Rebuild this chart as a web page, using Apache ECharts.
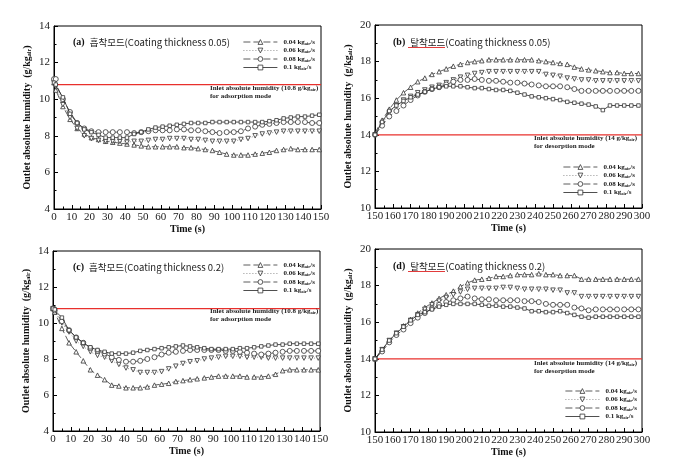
<!DOCTYPE html>
<html><head><meta charset="utf-8">
<script src="https://cdn.jsdelivr.net/npm/echarts@6/dist/echarts.min.js"></script>
<style>html,body{margin:0;padding:0;background:#fff}#c{width:686px;height:470px}</style>
</head><body><div id="c"></div>
<script>
// ---------- data ----------
const flowNames = ['0.04', '0.06', '0.08', '0.1'];
const timeA = [0,1,5,9,13,17,21,25,29,33,37,41,45,49,53,57,61,65,69,73,77,81,85,89,93,97,101,105,109,113,117,121,125,129,133,137,141,145,149];
const timeB = [150,154,158,162,166,170,174,178,182,186,190,194,198,202,206,210,214,218,222,226,230,234,238,242,246,250,254,258,262,266,270,274,278,282,286,290,294,298];

// (a) adsorption, coating 0.05
const a04 = [10.9,10.5,9.6,8.9,8.4,8.1,7.9,7.8,7.7,7.65,7.6,7.55,7.5,7.45,7.4,7.4,7.4,7.4,7.4,7.35,7.35,7.3,7.25,7.2,7.1,7.0,6.95,6.95,6.95,7.0,7.05,7.1,7.2,7.25,7.3,7.25,7.25,7.25,7.25];
const a06 = [10.9,10.7,9.7,9.0,8.4,8.0,7.85,7.75,7.7,7.7,7.7,7.65,7.7,7.7,7.75,7.8,7.8,7.85,7.85,7.85,7.8,7.8,7.75,7.7,7.7,7.7,7.7,7.8,7.85,8.0,8.1,8.15,8.2,8.25,8.25,8.25,8.25,8.25,8.25];
const a08 = [11.1,11.1,10.0,9.3,8.7,8.4,8.25,8.2,8.2,8.2,8.2,8.2,8.15,8.2,8.25,8.3,8.3,8.3,8.35,8.35,8.3,8.3,8.25,8.2,8.15,8.2,8.2,8.25,8.4,8.5,8.6,8.65,8.7,8.75,8.75,8.75,8.75,8.7,8.7];
const a10 = [10.9,10.8,10.1,9.2,8.7,8.35,8.2,8.05,7.9,7.9,7.9,7.9,8.1,8.2,8.35,8.45,8.5,8.55,8.6,8.65,8.7,8.7,8.7,8.75,8.75,8.75,8.75,8.75,8.75,8.75,8.75,8.8,8.85,8.95,9.0,9.05,9.05,9.1,9.15];

// (b) desorption, coating 0.05
const b04 = [14.1,14.8,15.4,15.9,16.3,16.6,16.9,17.1,17.3,17.45,17.6,17.75,17.85,17.95,18.0,18.05,18.1,18.1,18.1,18.1,18.1,18.1,18.1,18.05,18.0,17.95,17.9,17.85,17.7,17.6,17.55,17.5,17.45,17.4,17.4,17.35,17.35,17.35];
const b06 = [14.0,14.6,15.2,15.6,15.9,16.1,16.3,16.45,16.6,16.7,16.85,17.0,17.15,17.25,17.35,17.4,17.45,17.45,17.45,17.45,17.45,17.45,17.45,17.45,17.3,17.25,17.2,17.1,17.05,17.0,17.0,16.95,16.95,16.95,16.95,16.95,16.95,16.95];
const b08 = [14.0,14.5,15.0,15.3,15.6,15.9,16.15,16.35,16.5,16.6,16.75,16.9,17.0,17.0,17.05,17.0,16.95,16.95,16.9,16.85,16.85,16.8,16.75,16.7,16.65,16.65,16.65,16.6,16.5,16.4,16.4,16.4,16.4,16.4,16.4,16.4,16.4,16.4];
const b10 = [14.0,14.7,15.3,15.6,15.85,16.05,16.2,16.35,16.5,16.6,16.65,16.65,16.65,16.6,16.55,16.55,16.5,16.45,16.45,16.4,16.3,16.2,16.1,16.05,16.0,15.95,15.9,15.8,15.75,15.7,15.65,15.55,15.35,15.6,15.6,15.6,15.6,15.6];

// (c) adsorption, coating 0.2
const c04 = [10.8,10.6,9.7,8.9,8.4,7.9,7.4,7.1,6.85,6.55,6.5,6.4,6.4,6.4,6.45,6.55,6.6,6.65,6.75,6.8,6.85,6.9,6.95,7.0,7.05,7.05,7.05,7.05,7.0,7.0,7.0,7.05,7.15,7.35,7.4,7.4,7.4,7.4,7.4];
const c06 = [10.8,10.7,10.0,9.5,9.0,8.7,8.4,8.2,8.1,7.9,7.7,7.5,7.4,7.25,7.25,7.25,7.3,7.45,7.6,7.75,7.85,7.9,8.0,8.05,8.1,8.15,8.15,8.15,8.1,8.1,8.1,8.05,8.05,8.05,8.05,8.05,8.05,8.05,8.05];
const c08 = [10.8,10.7,10.1,9.6,9.2,8.9,8.6,8.45,8.3,8.1,7.95,7.85,7.85,7.9,8.0,8.1,8.25,8.35,8.4,8.45,8.5,8.5,8.5,8.5,8.5,8.45,8.45,8.4,8.35,8.3,8.25,8.3,8.35,8.4,8.45,8.45,8.45,8.45,8.45];
const c10 = [10.8,10.75,10.3,9.6,9.2,8.9,8.65,8.5,8.4,8.3,8.3,8.3,8.35,8.45,8.5,8.55,8.6,8.65,8.7,8.75,8.7,8.65,8.6,8.55,8.55,8.55,8.55,8.6,8.6,8.65,8.7,8.75,8.8,8.8,8.85,8.85,8.85,8.85,8.85];

// (d) desorption, coating 0.2
const d04 = [14.0,14.5,15.0,15.4,15.8,16.15,16.5,16.8,17.05,17.3,17.5,17.7,17.95,18.15,18.3,18.35,18.4,18.5,18.5,18.55,18.6,18.6,18.6,18.65,18.6,18.6,18.55,18.55,18.55,18.35,18.35,18.35,18.35,18.35,18.35,18.35,18.35,18.35];
const d06 = [14.0,14.5,15.0,15.4,15.75,16.1,16.4,16.7,16.95,17.15,17.35,17.5,17.65,17.8,17.85,17.85,17.85,17.85,17.9,17.9,17.85,17.8,17.8,17.8,17.8,17.75,17.75,17.6,17.6,17.4,17.4,17.4,17.4,17.4,17.4,17.4,17.4,17.4];
const d08 = [14.0,14.4,14.9,15.3,15.6,15.95,16.25,16.5,16.75,16.95,17.1,17.2,17.3,17.4,17.3,17.25,17.25,17.2,17.2,17.2,17.2,17.15,17.15,17.1,17.0,16.95,16.95,16.95,16.8,16.75,16.65,16.7,16.7,16.7,16.7,16.7,16.7,16.7];
const d10 = [14.0,14.5,15.0,15.4,15.75,16.1,16.4,16.55,16.7,16.85,16.95,17.0,17.0,17.0,17.0,16.95,16.9,16.9,16.85,16.85,16.8,16.75,16.6,16.6,16.55,16.55,16.6,16.5,16.4,16.3,16.25,16.3,16.3,16.3,16.3,16.3,16.3,16.3];

const inletAds = 10.8, inletDes = 14;
const panelTitles = ['흡착모드(Coating thickness 0.05)', '탈착모드(Coating thickness 0.05)', '흡착모드(Coating thickness 0.2)', '탈착모드(Coating thickness 0.2)'];
const panelLetters = ['(a)', '(b)', '(c)', '(d)'];

// ---------- layout/style ----------
const SERIF = '"Liberation Serif","Times New Roman",serif';
const KR = '"Noto Sans CJK KR","Noto Sans",sans-serif';
const grids = [
  {left: 54, top: 26, width: 267, height: 183},
  {left: 375, top: 25, width: 267, height: 183},
  {left: 53, top: 251, width: 267, height: 180},
  {left: 375, top: 249, width: 267, height: 183}
];
const panels = [
  {t: timeA, s: [a04, a06, a08, a10], xr: [0, 150], yr: [4, 14], inlet: inletAds},
  {t: timeB, s: [b04, b06, b08, b10], xr: [150, 300], yr: [10, 20], inlet: inletDes},
  {t: timeA, s: [c04, c06, c08, c10], xr: [0, 150], yr: [4, 14], inlet: inletAds},
  {t: timeB, s: [d04, d06, d08, d10], xr: [150, 300], yr: [10, 20], inlet: inletDes}
];
const symbols = ['triangle', 'triangle', 'circle', 'rect'];
const rotates = [0, 180, 0, 0];
const lineTypes = [[7, 3], [1, 2], [7, 3], 'solid'];
const lineColors = ['#333', '#777', '#333', '#222'];
const symSizes = [4.5, 4.5, 5, 3.5];

const xAxes = [], yAxes = [], series = [], legends = [], titles = [], graphics = [];
const subRich = {
  a: {fontFamily: SERIF, fontWeight: 'bold', fontSize: 7, color: '#222', lineHeight: 8},
  s: {fontFamily: SERIF, fontWeight: 'bold', fontSize: 4.5, color: '#222', padding: [3, 0, 0, 0], lineHeight: 8}
};

panels.forEach((p, i) => {
  xAxes.push({
    type: 'value', gridIndex: i, min: p.xr[0], max: p.xr[1], interval: 10,
    name: 'Time (s)', nameLocation: 'middle', nameGap: 15,
    nameTextStyle: {fontFamily: SERIF, fontWeight: 'bold', fontSize: 10, color: '#111'},
    axisLine: {onZero: false, lineStyle: {color: '#000', width: 1}},
    axisTick: {inside: true, length: 4, lineStyle: {color: '#000'}},
    minorTick: {show: true, splitNumber: 2, length: 2.5, lineStyle: {color: '#000'}},
    axisLabel: {fontFamily: SERIF, fontSize: 11, color: '#222', margin: 3, showMinLabel: true, showMaxLabel: true},
    splitLine: {show: false}
  });
  yAxes.push({
    type: 'value', gridIndex: i, min: p.yr[0], max: p.yr[1], interval: 2,
    name: 'Outlet absolute humidity  (g/kg{s|air})', nameLocation: 'middle', nameGap: 22,
    nameTextStyle: {fontFamily: SERIF, fontWeight: 'bold', fontSize: 10, color: '#111',
      rich: {s: {fontFamily: SERIF, fontWeight: 'bold', fontSize: 6, color: '#111', padding: [4, 0, 0, 0]}}},
    axisLine: {onZero: false, lineStyle: {color: '#000', width: 1}},
    axisTick: {inside: true, length: 4, lineStyle: {color: '#000'}},
    minorTick: {show: true, splitNumber: 2, length: 2.5, lineStyle: {color: '#000'}},
    axisLabel: {fontFamily: SERIF, fontSize: 11, color: '#222', margin: 4},
    splitLine: {show: false}
  });
  // inlet reference line (drawn through the axes' scales)
  series.push({
    type: 'line', name: 'inlet' + i, xAxisIndex: i, yAxisIndex: i,
    data: [[p.xr[0], p.inlet], [p.xr[1], p.inlet]],
    symbol: 'none', silent: true, z: 2,
    lineStyle: {color: '#e8302c', width: 1.2, type: 'solid'}
  });
  p.s.forEach((vals, k) => {
    series.push({
      type: 'line', name: flowNames[k], xAxisIndex: i, yAxisIndex: i,
      data: p.t.map((t, j) => [t, vals[j]]),
      symbol: symbols[k], symbolRotate: rotates[k], symbolSize: symSizes[k], showSymbol: true, showAllSymbol: true,
      lineStyle: {color: lineColors[k], width: 0.8, type: lineTypes[k]},
      itemStyle: {color: '#fff', borderColor: '#333', borderWidth: 0.8},
      z: 3 + k
    });
  });
});

const legendPos = [
  {left: 243, top: 38}, {left: 563, top: 163}, {left: 243, top: 261}, {left: 565, top: 387}
];
legendPos.forEach(pos => {
  legends.push({
    left: pos.left, top: pos.top, orient: 'vertical', itemWidth: 34, itemHeight: 6, itemGap: 0.5, padding: 0,
    data: flowNames, selectedMode: false,
    itemStyle: {color: '#fff', borderColor: '#333', borderWidth: 0.8},
    lineStyle: {width: 0.8},
    formatter: n => `{a|${n} kg}{s|air}{a|/s}`,
    textStyle: {rich: subRich, lineHeight: 8, padding: [0, 0, 0, 1]}
  });
});

const titlePos = [[73, 33], [393, 33], [73, 258], [393, 257]];
titlePos.forEach((tp, i) => {
  titles.push({
    left: tp[0], top: tp[1], padding: 0,
    text: `{b|${panelLetters[i]}} {k|${panelTitles[i]}}`,
    textStyle: {rich: {
      b: {fontFamily: SERIF, fontWeight: 'bold', fontSize: 10, color: '#111'},
      k: {fontFamily: KR, fontWeight: 'normal', fontSize: 9.5, color: '#222'}
    }}
  });
});

const annPos = [[210, 84, '10.8', 'adsorption'], [534, 134, '14', 'desorption'], [210, 307, '10.8', 'adsorption'], [534, 359, '14', 'desorption']];
annPos.forEach(a => {
  graphics.push({
    type: 'text', left: a[0], top: a[1], z: 10,
    style: {
      text: `{a|Inlet absolute humidity (${a[2]} g/kg}{s|air}{a|)}\n{a|for ${a[3]} mode}`,
      rich: {
        a: {fontFamily: SERIF, fontWeight: 'bold', fontSize: 7, fill: '#222', lineHeight: 8.5},
        s: {fontFamily: SERIF, fontWeight: 'bold', fontSize: 4.5, fill: '#222', padding: [3, 0, 0, 0], lineHeight: 8.5}
      }
    }
  });
});
// spell-check underline under Korean title words in (b) and (d)
[[408, 47.5], [408, 271.5]].forEach(u => {
  graphics.push({type: 'line', shape: {x1: u[0], y1: u[1], x2: u[0] + 37, y2: u[1]}, style: {stroke: '#e23b3b', lineWidth: 1}});
});

const chart = echarts.init(document.getElementById('c'), null, {renderer: 'canvas'});
chart.setOption({
  animation: false,
  backgroundColor: '#fff',
  title: titles,
  legend: legends,
  grid: grids.map(g => Object.assign({show: true, borderColor: '#000', borderWidth: 1, backgroundColor: 'transparent'}, g)),
  xAxis: xAxes,
  yAxis: yAxes,
  series: series,
  graphic: graphics
});
</script></body></html>
